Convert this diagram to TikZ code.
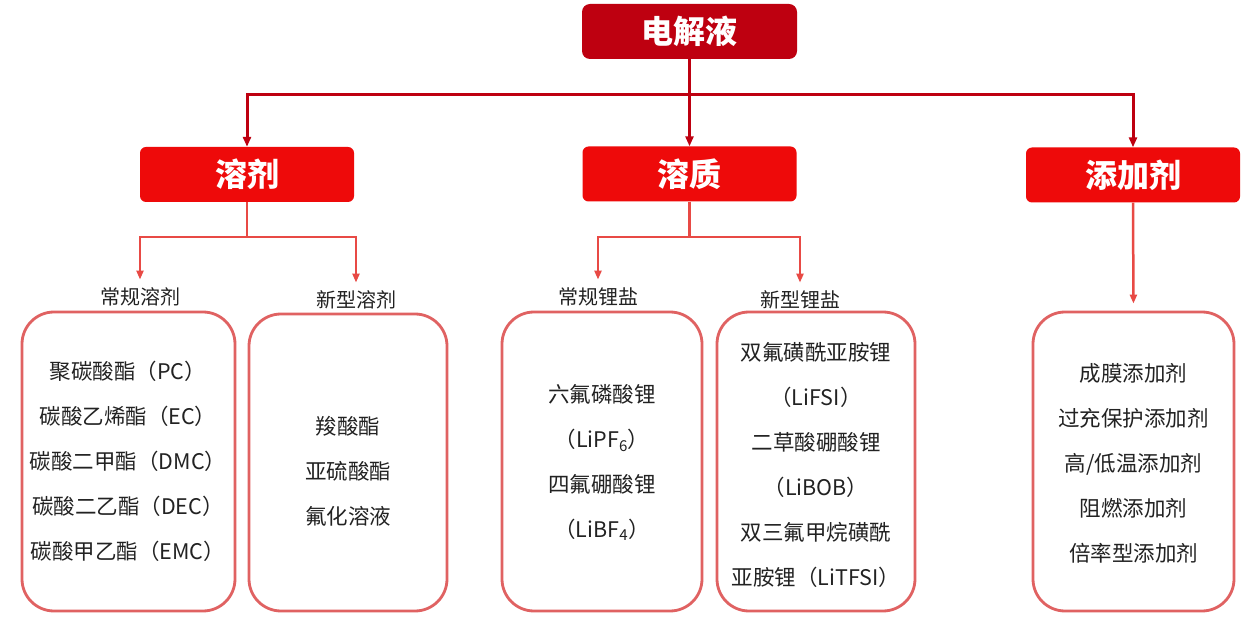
\documentclass[tikz,border=0pt]{standalone}
\usepackage{fontspec}
\newfontfamily\cjk{Noto Sans CJK SC}
\usetikzlibrary{arrows.meta}
\definecolor{darkred}{HTML}{BE0010}
\definecolor{brightred}{HTML}{EE0A0A}
\definecolor{linered}{HTML}{E84A45}
\definecolor{boxred}{HTML}{E06262}
\definecolor{txt}{HTML}{222222}
\begin{document}
\begin{tikzpicture}[x=1pt,y=-1pt,
  topbox/.style={fill=darkred, rounded corners=8pt, minimum width=215pt, minimum height=55pt,
    text=white, font=\cjk\bfseries\fontsize{32}{32}\selectfont, inner sep=0pt},
  midbox/.style={fill=brightred, rounded corners=6pt, minimum width=214pt, minimum height=55pt,
    text=white, font=\cjk\bfseries\fontsize{32}{32}\selectfont, inner sep=0pt},
  listbox/.style={draw=boxred, line width=2.8pt, rounded corners=32pt, inner sep=0pt},
  lvlabel/.style={font=\cjk\fontsize{20}{20}\selectfont, text=txt, inner sep=1pt},
  itemtext/.style={font=\cjk\fontsize{21.5}{45}\selectfont, text=txt, align=center, inner sep=0pt},
  topline/.style={draw=darkred, line width=3pt},
  lowline/.style={draw=linered, line width=2.5pt},
  bigarr/.style={-{Triangle[length=10pt,width=8pt]}},
  smallarr/.style={-{Triangle[length=9pt,width=7pt]}, shorten >=7pt}
]
\fill[white] (0,0) rectangle (1254,620);
\useasboundingbox (0,0) rectangle (1254,620);

% top level
\node[topbox] (top) at (689.5,31.5) {电解液};

% second level
\node[midbox] (solv) at (247,174.5) {溶剂};
\node[midbox] (solu) at (689.5,174) {溶质};
\node[midbox] (addi) at (1133,175) {添加剂};

% labels
\node[lvlabel] (l1) at (140,297) {常规溶剂};
\node[lvlabel] (l2) at (356,300) {新型溶剂};
\node[lvlabel] (l3) at (598,297) {常规锂盐};
\node[lvlabel] (l4) at (800,300) {新型锂盐};

% list boxes
\node[listbox, minimum width=213pt, minimum height=299pt] (b1) at (128.5,461.5) {};
\node[listbox, minimum width=198pt, minimum height=297pt] (b2) at (348,462.5) {};
\node[listbox, minimum width=200pt, minimum height=299pt] (b3) at (602,461.5) {};
\node[listbox, minimum width=198pt, minimum height=299pt] (b4) at (816,461.5) {};
\node[listbox, minimum width=201pt, minimum height=299pt] (b5) at (1133.5,461.5) {};

% list texts
\node[itemtext] (t1) at (128,461.5) {聚碳酸酯（PC）\\碳酸乙烯酯（EC）\\碳酸二甲酯（DMC）\\碳酸二乙酯（DEC）\\碳酸甲乙酯（EMC）};
\node[itemtext] (t2) at (348,471) {羧酸酯\\亚硫酸酯\\氟化溶液};
\node[itemtext] (t3) at (602,462.5) {六氟磷酸锂\\（LiPF\textsubscript{6}）\\四氟硼酸锂\\（LiBF\textsubscript{4}）};
\node[itemtext] (t4) at (816,465) {双氟磺酰亚胺锂\\（LiFSI）\\二草酸硼酸锂\\（LiBOB）\\双三氟甲烷磺酰\\亚胺锂（LiTFSI）};
\node[itemtext] (t5) at (1133.5,463) {成膜添加剂\\过充保护添加剂\\高/低温添加剂\\阻燃添加剂\\倍率型添加剂};

% top connectors
\coordinate (j0) at (689.5,95);
\draw[topline] (top.south) -- (j0);
\draw[topline,bigarr] (j0) -| (solv.north);
\draw[topline,bigarr] (j0) -- (solu.north);
\draw[topline,bigarr] (j0) -| (addi.north);

% lower connectors
\coordinate (j1) at (247,237);
\draw[lowline] (solv.south) -- (j1);
\draw[lowline,smallarr] (j1) -| (l1.north);
\draw[lowline,smallarr] (j1) -| (l2.north);

\coordinate (j2) at (689.5,237);
\draw[lowline] (solu.south) -- (j2);
\draw[lowline,smallarr] (j2) -| (l3.north);
\draw[lowline,smallarr] (j2) -| (l4.north);

\draw[lowline,smallarr] (addi.south) -- (b5.north);
\end{tikzpicture}
\end{document}
